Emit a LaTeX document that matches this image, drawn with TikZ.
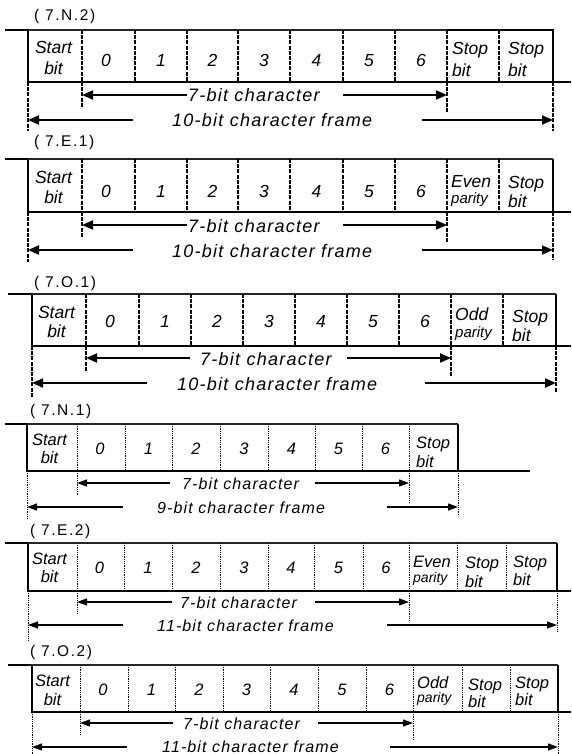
\documentclass[tikz,border=0pt]{standalone}
\usepackage{fontspec}
\setmainfont{Liberation Sans}
\newfontfamily\capfont[LetterSpace=7]{Liberation Sans}
\newfontfamily\lblfont[LetterSpace=10]{Liberation Sans}
\usetikzlibrary{arrows.meta}
\tikzset{
 wave/.style={line width=2.2pt, line join=miter},
 wavethin/.style={line width=1.8pt, line join=miter},
 topl/.style={line width=1.5pt, black!85},
 divA/.style={line width=1.4pt, dash pattern=on 4pt off 1.2pt},
 divB/.style={line width=0.8pt, dash pattern=on 1pt off 0.8pt},
 arrA/.style={line width=1.8pt, -{Triangle[length=11pt,width=9pt]}},
 arrB/.style={line width=1.1pt, -{Triangle[length=10pt,width=7pt]}},
 txtA/.style={inner sep=0pt, font=\itshape\fontsize{17.5}{20}\selectfont},
 txtB/.style={inner sep=0pt, font=\itshape\fontsize{16.5}{20}\selectfont},
 parA/.style={inner sep=0pt, anchor=base west, font=\itshape\fontsize{15}{18}\selectfont},
 parB/.style={inner sep=0pt, anchor=base west, font=\itshape\fontsize{14}{18}\selectfont},
 capA/.style={inner sep=0pt, anchor=base west, font=\capfont\itshape\fontsize{18}{20}\selectfont},
 capB/.style={inner sep=0pt, anchor=base west, font=\capfont\itshape\fontsize{16}{20}\selectfont},
 lbl/.style={inner sep=0pt, anchor=base west, font=\lblfont\fontsize{15.5}{18}\selectfont},
}
\begin{document}
\begin{tikzpicture}[x=1pt,y=-1pt]
\useasboundingbox (0,0) rectangle (571,754);
% ================= Panel 1 (7.N.2)
\node[lbl] (l1) at (34,20.5) {( 7.N.2)};
\draw[wave] (5,30) -- (28,30) -- (28,82) -- (571,82);
\draw[topl] (28,30) -- (447,30);
\draw[wave] (447,30) -- (553,30) -- (553,82);
\foreach \x in {82,135,187,238,290,343,395,447,499} \draw[divA] (\x,30) -- (\x,82);
\node[txtA, anchor=base] (p1s) at (53.5,54) {Start};
\node[txtA, anchor=base] (p1sb) at (53.5,75) {bit};
\foreach \x [count=\i from 0] in {106,161,212.5,264,316.5,369,421}
  \node[txtA, anchor=base] (p1n\i) at (\x,67) {\i};
\node[txtA, anchor=base west] (p1t1) at (452,55) {Stop};
\node[txtA, anchor=base west] (p1t1b) at (452,77) {bit};
\node[txtA, anchor=base west] (p1t2) at (508,55) {Stop};
\node[txtA, anchor=base west] (p1t2b) at (508,77) {bit};
\draw[divA] (28,82) -- (28,131);
\draw[divA] (82,82) -- (82,108);
\draw[divA] (447,82) -- (447,113);
\draw[divA] (553,82) -- (553,131);
\node[capA] (p1c7) at (188,102) {7-bit character};
\node[capA] (p1cf) at (172,127) {10-bit character frame};
\coordinate (p1a1) at (187,95); \coordinate (p1a1e) at (82,95);
\coordinate (p1a2) at (343,95); \coordinate (p1a2e) at (447,95);
\coordinate (p1b1) at (133,120); \coordinate (p1b1e) at (28,120);
\coordinate (p1b2) at (422,120); \coordinate (p1b2e) at (553,120);
\draw[arrA] (p1a1) -- (p1a1e);
\draw[arrA] (p1a2) -- (p1a2e);
\draw[arrA] (p1b1) -- (p1b1e);
\draw[arrA] (p1b2) -- (p1b2e);
% ================= Panel 2 (7.E.1)
\node[lbl] (l2) at (34,147) {( 7.E.1)};
\draw[wave] (5,159) -- (28,159) -- (28,212) -- (571,212);
\draw[topl] (28,159) -- (553,159);
\draw[wave] (553,159) -- (553,212);
\foreach \x in {82,135,187,238,290,343,395,447,499} \draw[divA] (\x,159) -- (\x,212);
\node[txtA, anchor=base] (p2s) at (53.5,183) {Start};
\node[txtA, anchor=base] (p2sb) at (53.5,203) {bit};
\foreach \x [count=\i from 0] in {106,161,212.5,264,316.5,369,421}
  \node[txtA, anchor=base] (p2n\i) at (\x,197) {\i};
\node[txtA, anchor=base west] (p2t1) at (451,187) {Even};
\node[parA] (p2t1b) at (451,204) {parity};
\node[txtA, anchor=base west] (p2t2) at (508,188) {Stop};
\node[txtA, anchor=base west] (p2t2b) at (508,207) {bit};
\draw[divA] (28,212) -- (28,262);
\draw[divA] (82,212) -- (82,238);
\draw[divA] (447,212) -- (447,243);
\draw[divA] (553,212) -- (553,260);
\node[capA] (p2c7) at (188,232) {7-bit character};
\node[capA] (p2cf) at (172,257) {10-bit character frame};
\coordinate (p2a1) at (187,225); \coordinate (p2a1e) at (82,225);
\coordinate (p2a2) at (343,225); \coordinate (p2a2e) at (447,225);
\coordinate (p2b1) at (133,250); \coordinate (p2b1e) at (28,250);
\coordinate (p2b2) at (422,250); \coordinate (p2b2e) at (553,250);
\draw[arrA] (p2a1) -- (p2a1e);
\draw[arrA] (p2a2) -- (p2a2e);
\draw[arrA] (p2b1) -- (p2b1e);
\draw[arrA] (p2b2) -- (p2b2e);
% ================= Panel 3 (7.O.1)
\node[lbl] (l3) at (34,287) {( 7.O.1)};
\draw[wave] (8,294) -- (32,294) -- (32,346) -- (571,346);
\draw[topl] (32,294) -- (556,294);
\draw[wave] (556,294) -- (556,346);
\foreach \x in {86,139,191,243,295,347,399,451,503} \draw[divA] (\x,294) -- (\x,346);
\node[txtA, anchor=base] (p3s) at (56.5,318) {Start};
\node[txtA, anchor=base] (p3sb) at (56.5,337) {bit};
\foreach \x [count=\i from 0] in {110,165,217,269,321,373,425}
  \node[txtA, anchor=base] (p3n\i) at (\x,327) {\i};
\node[txtA, anchor=base west] (p3t1) at (455,320) {Odd};
\node[parA] (p3t1b) at (455,337) {parity};
\node[txtA, anchor=base west] (p3t2) at (512,322) {Stop};
\node[txtA, anchor=base west] (p3t2b) at (512,341) {bit};
\draw[divA] (32,346) -- (32,397);
\draw[divA] (86,346) -- (86,372);
\draw[divA] (451,346) -- (451,377);
\draw[divA] (556,346) -- (556,392);
\node[capA] (p3c7) at (200,365) {7-bit character};
\node[capA] (p3cf) at (177,390) {10-bit character frame};
\coordinate (p3a1) at (190,358); \coordinate (p3a1e) at (86,358);
\coordinate (p3a2) at (347,358); \coordinate (p3a2e) at (451,358);
\coordinate (p3b1) at (147,383); \coordinate (p3b1e) at (32,383);
\coordinate (p3b2) at (425,383); \coordinate (p3b2e) at (556,383);
\draw[arrA] (p3a1) -- (p3a1e);
\draw[arrA] (p3a2) -- (p3a2e);
\draw[arrA] (p3b1) -- (p3b1e);
\draw[arrA] (p3b2) -- (p3b2e);
% ================= Panel 4 (7.N.1)
\node[lbl] (l4) at (30,415) {( 7.N.1)};
\draw[wavethin] (5,424) -- (27,424) -- (27,471) -- (530,471);
\draw[topl] (27,424) -- (458,424);
\draw[wavethin] (458,424) -- (458,471);
\foreach \x in {77,125,172,220,268,315,362,409} \draw[divB] (\x,424) -- (\x,471);
\node[txtB, anchor=base] (p4s) at (49.5,445) {Start};
\node[txtB, anchor=base] (p4sb) at (49.5,463) {bit};
\foreach \x [count=\i from 0] in {100,148.5,196,244,291.5,338.5,385.5}
  \node[txtB, anchor=base] (p4n\i) at (\x,454) {\i};
\node[txtB, anchor=base west] (p4t1) at (416,448) {Stop};
\node[txtB, anchor=base west] (p4t1b) at (416,467) {bit};
\draw[divB] (27,471) -- (27,518);
\draw[divB] (77,471) -- (77,495);
\draw[divB] (409,471) -- (409,502);
\draw[divB] (458,471) -- (458,515);
\node[capB] (p4c7) at (182,489) {7-bit character};
\node[capB] (p4cf) at (157,513) {9-bit character frame};
\coordinate (p4a1) at (170,483); \coordinate (p4a1e) at (77,483);
\coordinate (p4a2) at (315,483); \coordinate (p4a2e) at (409,483);
\coordinate (p4b1) at (123,507); \coordinate (p4b1e) at (27,507);
\coordinate (p4b2) at (387,507); \coordinate (p4b2e) at (458,507);
\draw[arrB] (p4a1) -- (p4a1e);
\draw[arrB] (p4a2) -- (p4a2e);
\draw[arrB] (p4b1) -- (p4b1e);
\draw[arrB] (p4b2) -- (p4b2e);
% ================= Panel 5 (7.E.2)
\node[lbl] (l5) at (30,535) {( 7.E.2)};
\draw[wavethin] (5,543) -- (28,543) -- (28,591) -- (571,591);
\draw[topl] (28,543) -- (557,543);
\draw[wavethin] (557,543) -- (557,591);
\foreach \x in {77,124,172,220,268,314,363,409,457,506} \draw[divB] (\x,543) -- (\x,591);
\node[txtB, anchor=base] (p5s) at (49.5,564) {Start};
\node[txtB, anchor=base] (p5sb) at (49.5,582) {bit};
\foreach \x [count=\i from 0] in {99.5,148,196,244,291,338.5,386}
  \node[txtB, anchor=base] (p5n\i) at (\x,573) {\i};
\node[txtB, anchor=base west] (p5t1) at (413,567) {Even};
\node[parB] (p5t1b) at (413,582) {parity};
\node[txtB, anchor=base west] (p5t2) at (465,568) {Stop};
\node[txtB, anchor=base west] (p5t2b) at (465,587) {bit};
\node[txtB, anchor=base west] (p5t3) at (513,567) {Stop};
\node[txtB, anchor=base west] (p5t3b) at (513,585) {bit};
\draw[divB] (28,591) -- (28,640);
\draw[divB] (77,591) -- (77,613);
\draw[divB] (409,591) -- (409,620);
\draw[divB] (557,591) -- (557,632);
\node[capB] (p5c7) at (180,608) {7-bit character};
\node[capB] (p5cf) at (157,631) {11-bit character frame};
\coordinate (p5a1) at (172,602); \coordinate (p5a1e) at (77,602);
\coordinate (p5a2) at (315,602); \coordinate (p5a2e) at (409,602);
\coordinate (p5b1) at (123,625); \coordinate (p5b1e) at (28,625);
\coordinate (p5b2) at (387,625); \coordinate (p5b2e) at (557,625);
\draw[arrB] (p5a1) -- (p5a1e);
\draw[arrB] (p5a2) -- (p5a2e);
\draw[arrB] (p5b1) -- (p5b1e);
\draw[arrB] (p5b2) -- (p5b2e);
% ================= Panel 6 (7.O.2)
\node[lbl] (l6) at (30,656.5) {( 7.O.2)};
\draw[wavethin] (8,665) -- (32,665) -- (32,712) -- (571,712);
\draw[topl] (32,665) -- (558,665);
\draw[wavethin] (558,665) -- (558,712);
\foreach \x in {80,128,175,223,270,318,366,413,462,510} \draw[divB] (\x,665) -- (\x,712);
\node[txtB, anchor=base] (p6s) at (52.5,686) {Start};
\node[txtB, anchor=base] (p6sb) at (52.5,705) {bit};
\foreach \x [count=\i from 0] in {103,151.5,199,246.5,294,342,389.5}
  \node[txtB, anchor=base] (p6n\i) at (\x,695) {\i};
\node[txtB, anchor=base west] (p6t1) at (417,688) {Odd};
\node[parB] (p6t1b) at (417,702) {parity};
\node[txtB, anchor=base west] (p6t2) at (468,690) {Stop};
\node[txtB, anchor=base west] (p6t2b) at (468,707) {bit};
\node[txtB, anchor=base west] (p6t3) at (515,688) {Stop};
\node[txtB, anchor=base west] (p6t3b) at (515,705) {bit};
\draw[divB] (32,712) -- (32,754);
\draw[divB] (80,712) -- (80,735);
\draw[divB] (413,712) -- (413,740);
\draw[divB] (558,712) -- (558,754);
\node[capB] (p6c7) at (183,729) {7-bit character};
\node[capB] (p6cf) at (162,752) {11-bit character frame};
\coordinate (p6a1) at (173,723); \coordinate (p6a1e) at (80,723);
\coordinate (p6a2) at (318,723); \coordinate (p6a2e) at (413,723);
\coordinate (p6b1) at (127,747); \coordinate (p6b1e) at (32,747);
\coordinate (p6b2) at (390,747); \coordinate (p6b2e) at (558,747);
\draw[arrB] (p6a1) -- (p6a1e);
\draw[arrB] (p6a2) -- (p6a2e);
\draw[arrB] (p6b1) -- (p6b1e);
\draw[arrB] (p6b2) -- (p6b2e);
\end{tikzpicture}
\end{document}
